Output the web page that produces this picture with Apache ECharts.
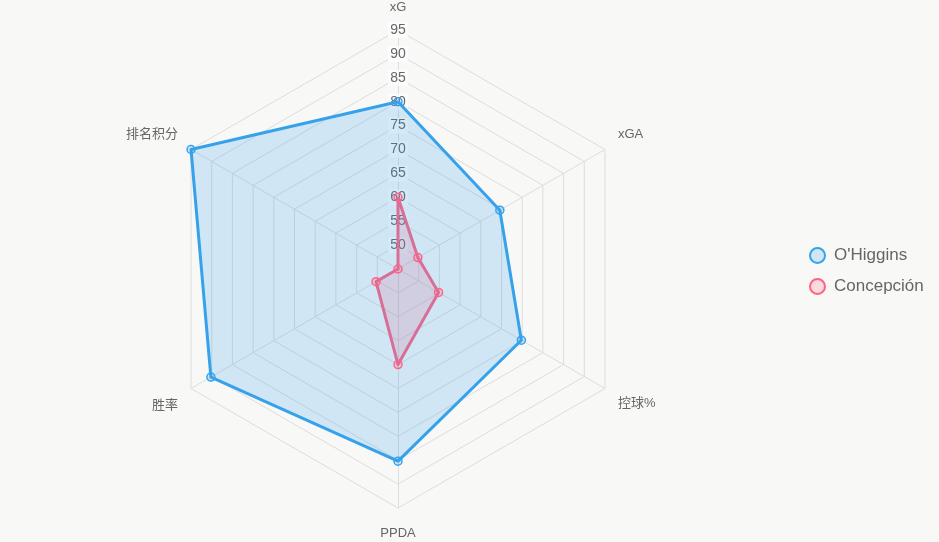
<!DOCTYPE html>
<html>
<head>
<meta charset="utf-8">
<script src="https://cdn.jsdelivr.net/npm/echarts@6/dist/echarts.min.js"></script>
<style>
html,body{margin:0;padding:0;background:#f8f8f7;}
#chart{width:939px;height:542px;}
</style>
</head>
<body>
<div id="chart"></div>
<script>
// Indicators in ECharts order (counter-clockwise from top)
const indicators = ['xG', '排名积分', '胜率', 'PPDA', '控球%', 'xGA'];
const axisMin = 45;
const axisMax = 95;
const teams = ["O'Higgins", 'Concepción'];
const ohigginsValues = [80, 95, 90.2, 85.2, 74.8, 69.6];
const concepcionValues = [60, 45, 50.3, 65, 54.8, 49.8];

const FONT = '"Liberation Sans", Arial, "Noto Sans CJK SC", sans-serif';
const blue = 'rgb(54,162,235)';
const blueFill = 'rgba(54,162,235,0.2)';
const pink = 'rgb(255,99,132)';
const pinkFill = 'rgba(255,99,132,0.2)';

// rich style key per indicator for name offset
const nameStyleKeys = ['top', 'up', 'down', 'bottom', 'down2', 'up'];

const chart = echarts.init(document.getElementById('chart'), null, {renderer: 'canvas'});
chart.setOption({
  backgroundColor: '#f8f8f7',
  animation: false,
  legend: {
    orient: 'vertical',
    left: 804,
    top: 'middle',
    icon: 'circle',
    itemWidth: 15,
    itemHeight: 15,
    itemGap: 14,
    data: teams,
    textStyle: {color: '#666', fontSize: 17, fontFamily: FONT, padding: [0, 0, 0, 4]}
  },
  radar: {
    center: [398, 269],
    radius: 239,
    startAngle: 90,
    splitNumber: 10,
    shape: 'polygon',
    axisName: {
      color: '#666', fontSize: 13, fontFamily: FONT,
      formatter: function (name) {
        const k = nameStyleKeys[indicators.indexOf(name)];
        return '{' + k + '|' + name + '}';
      },
      rich: {
        top: {color: '#666', fontSize: 13, fontFamily: FONT, padding: [0, 0, 1, 0]},
        bottom: {color: '#666', fontSize: 13, fontFamily: FONT, padding: [4, 0, 0, 0]},
        up: {color: '#666', fontSize: 13, fontFamily: FONT, padding: [0, 0, 16, 0]},
        down: {color: '#666', fontSize: 13, fontFamily: FONT, padding: [18, 0, 0, 0]},
        down2: {color: '#666', fontSize: 13, fontFamily: FONT, padding: [14, 0, 0, 0]}
      }
    },
    nameGap: 15,
    splitLine: {lineStyle: {color: '#dddddd', width: 1}},
    splitArea: {show: false},
    axisLine: {lineStyle: {color: '#dddddd', width: 1}},
    axisTick: {show: false},
    axisLabel: {show: false},
    indicator: indicators.map((name, i) => {
      const ind = {name: name, min: axisMin, max: axisMax};
      if (i === 0) {
        ind.axisLabel = {
          show: true,
          showMinLabel: false,
          color: '#666',
          fontSize: 14,
          fontFamily: FONT,
          margin: 0,
          align: 'center',
          verticalAlign: 'middle',
          backgroundColor: 'rgba(255,255,255,0.75)',
          padding: [1, 2]
        };
      }
      return ind;
    })
  },
  series: [{
    type: 'radar',
    symbol: 'circle',
    symbolSize: 8,
    data: [
      {
        name: teams[1],
        value: concepcionValues,
        lineStyle: {color: pink, width: 3},
        areaStyle: {color: pinkFill, opacity: 1},
        itemStyle: {color: pinkFill, borderColor: pink, borderWidth: 1.5}
      },
      {
        name: teams[0],
        value: ohigginsValues,
        lineStyle: {color: blue, width: 3},
        areaStyle: {color: blueFill, opacity: 1},
        itemStyle: {color: blueFill, borderColor: blue, borderWidth: 1.5}
      }
    ]
  }]
});
</script>
</body>
</html>
